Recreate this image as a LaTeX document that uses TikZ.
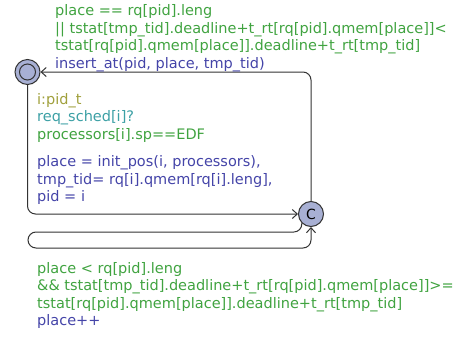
\documentclass[tikz,border=0pt]{standalone}
\usepackage{fontspec}
\setmainfont{DejaVu Sans}
\usetikzlibrary{arrows.meta}
\definecolor{guardc}{RGB}{64,163,64}
\definecolor{updc}{RGB}{68,68,168}
\definecolor{selc}{RGB}{160,160,60}
\definecolor{syncc}{RGB}{60,160,165}
\definecolor{locfill}{RGB}{168,176,212}
\begin{document}
\begin{tikzpicture}
  [x=1pt,y=-1pt,
   loc/.style={circle,draw=black!80,fill=locfill,line width=1pt,minimum size=25pt,inner sep=0pt,font=\fontsize{14}{16}\selectfont},
   edge/.style={draw=black!80,line width=1pt,rounded corners=8pt,-{Straight Barb[length=5pt,width=9pt]}},
   lbl/.style={anchor=base west,inner sep=0pt,align=left,font=\fontsize{14.5}{17.5}\selectfont}]

  \useasboundingbox (0,0) rectangle (467,338);

  % locations
  \node[loc] (init) at (27.5,72) {};
  \draw[line width=1pt,draw=black!80] (init.center) circle (8pt);
  \node[loc] (c) at (311,214) {C};

  % edges
  \draw[edge] (c) |- (init);
  \draw[edge] (init) |- (c);
  \coordinate (l1) at (28,232);
  \coordinate (l2) at (28,248);
  \draw[edge] (c.225) |- (l1) -- (l2) -| (c.south);

  % labels of c -> init (base = last line)
  \node[lbl,text=guardc] (g1) at (55,50.7) {place == rq[pid].leng\\
    || tstat[tmp\_tid].deadline+t\_rt[rq[pid].qmem[place]]<\\
    tstat[rq[pid].qmem[place]].deadline+t\_rt[tmp\_tid]};
  \node[lbl,text=updc] (u1) at (55,68.2) {insert\_at(pid, place, tmp\_tid)};

  % labels of init -> c
  \node[lbl,text=selc] (s2) at (37,104) {i:pid\_t};
  \node[lbl,text=syncc] (y2) at (37,121.5) {req\_sched[i]?};
  \node[lbl,text=guardc] (g2) at (37,139) {processors[i].sp==EDF};
  \node[lbl,text=updc] (u2) at (37,201.7) {place = init\_pos(i, processors),\\
    tmp\_tid= rq[i].qmem[rq[i].leng],\\
    pid = i};

  % labels of c -> c
  \node[lbl,text=guardc] (g3) at (37,308.3) {place < rq[pid].leng\\
    \&\& tstat[tmp\_tid].deadline+t\_rt[rq[pid].qmem[place]]>=\\
    tstat[rq[pid].qmem[place]].deadline+t\_rt[tmp\_tid]};
  \node[lbl,text=updc] (u3) at (37,325) {place++};
\end{tikzpicture}
\end{document}
